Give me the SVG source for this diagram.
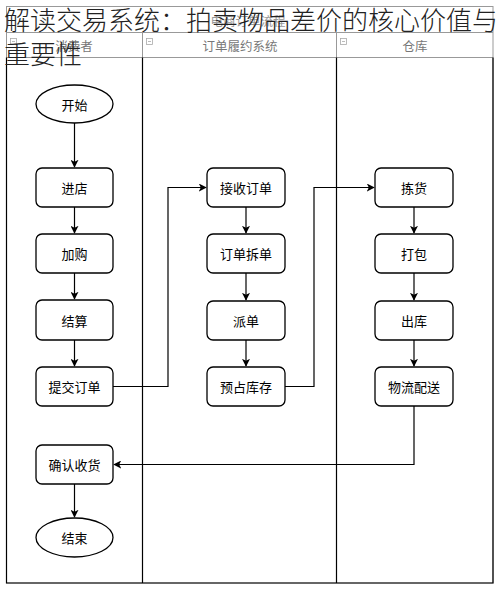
<svg xmlns="http://www.w3.org/2000/svg" width="500" height="591" viewBox="0 0 500 591">
<defs>
<marker id="arr" viewBox="0 0 10 10" refX="9" refY="5" markerWidth="8" markerHeight="8" markerUnits="userSpaceOnUse" orient="auto">
<path d="M0,0 L10,5 L0,10 L2.5,5 Z" fill="#000"/>
</marker>
</defs>
<style>
text{font-family:"Noto Sans CJK SC","Noto Sans",sans-serif;}
.n{fill:#fff;stroke:#000;stroke-width:1.3;}
.t{font-size:13px;fill:#000;text-anchor:middle;dominant-baseline:central;}
.h{font-size:12.5px;fill:#777;text-anchor:middle;dominant-baseline:central;}
.c{fill:none;stroke:#000;stroke-width:1.2;marker-end:url(#arr);}
.g{fill:none;stroke:#999;stroke-width:1;}
.lane{fill:none;stroke:#000;stroke-width:1.2;}
.ic{fill:none;stroke:#aaa;stroke-width:0.8;}
</style>
<rect width="500" height="591" fill="#fff"/>
<g id="pool">
<rect x="6.5" y="6.5" width="486.5" height="576.5" class="g"/>
<text x="248" y="20" class="h" style="fill:#999">电商订单流程</text>
<line x1="6.5" y1="32.5" x2="493" y2="32.5" class="g"/>
<line x1="6.5" y1="57.5" x2="493" y2="57.5" class="g"/>
<line x1="142.5" y1="32.5" x2="142.5" y2="57.5" class="g"/>
<line x1="336.5" y1="32.5" x2="336.5" y2="57.5" class="g"/>
<path d="M6.5,57.5 V583 H493 V57.5 M142.5,57.5 V583 M336.5,57.5 V583" class="lane"/>
<rect x="10.5" y="38.5" width="6" height="6" class="ic"/><line x1="12" y1="41.5" x2="15" y2="41.5" class="ic"/>
<rect x="146.5" y="38.5" width="6" height="6" class="ic"/><line x1="148" y1="41.5" x2="151" y2="41.5" class="ic"/>
<rect x="340.5" y="38.5" width="6" height="6" class="ic"/><line x1="342" y1="41.5" x2="345" y2="41.5" class="ic"/>
<text x="74" y="45" class="h">消费者</text>
<text x="240" y="45" class="h">订单履约系统</text>
<text x="415" y="45" class="h">仓库</text>
</g>
<g id="connectors">
<path d="M74.5,123 V167" class="c"/>
<path d="M74.5,207 V233" class="c"/>
<path d="M74.5,273 V299" class="c"/>
<path d="M74.5,340 V366" class="c"/>
<path d="M113,386.5 H168 V187.5 H206" class="c"/>
<path d="M246,207 V233" class="c"/>
<path d="M246,273 V300" class="c"/>
<path d="M246,340 V366" class="c"/>
<path d="M285,386.5 H314 V187.5 H374" class="c"/>
<path d="M414,207 V233" class="c"/>
<path d="M414,273 V300" class="c"/>
<path d="M414,340 V366" class="c"/>
<path d="M414,406 V464.5 H114" class="c"/>
<path d="M74.5,484 V517" class="c"/>
</g>
<g id="start"><ellipse cx="74.5" cy="104" rx="38.5" ry="19" class="n"/><text x="74.5" y="104" class="t">开始</text></g>
<g id="enter"><rect x="36" y="168" width="77" height="39" rx="6" class="n"/><text x="74.5" y="187.5" class="t">进店</text></g>
<g id="addcart"><rect x="36" y="234" width="77" height="39" rx="6" class="n"/><text x="74.5" y="253.5" class="t">加购</text></g>
<g id="checkout"><rect x="36" y="300" width="77" height="40" rx="6" class="n"/><text x="74.5" y="320" class="t">结算</text></g>
<g id="submit"><rect x="36" y="367" width="77" height="39" rx="6" class="n"/><text x="74.5" y="386.5" class="t">提交订单</text></g>
<g id="confirm"><rect x="36" y="445" width="77" height="39" rx="6" class="n"/><text x="74.5" y="464.5" class="t">确认收货</text></g>
<g id="end"><ellipse cx="74.5" cy="537.5" rx="38.5" ry="19.5" class="n"/><text x="74.5" y="537.5" class="t">结束</text></g>
<g id="receive"><rect x="207" y="168" width="78" height="39" rx="6" class="n"/><text x="246" y="187.5" class="t">接收订单</text></g>
<g id="split"><rect x="207" y="234" width="78" height="39" rx="6" class="n"/><text x="246" y="253.5" class="t">订单拆单</text></g>
<g id="dispatch"><rect x="207" y="301" width="78" height="39" rx="6" class="n"/><text x="246" y="320.5" class="t">派单</text></g>
<g id="reserve"><rect x="207" y="367" width="78" height="39" rx="6" class="n"/><text x="246" y="386.5" class="t">预占库存</text></g>
<g id="pick"><rect x="375" y="168" width="78" height="39" rx="6" class="n"/><text x="414" y="187.5" class="t">拣货</text></g>
<g id="pack"><rect x="375" y="234" width="78" height="39" rx="6" class="n"/><text x="414" y="253.5" class="t">打包</text></g>
<g id="outbound"><rect x="375" y="301" width="78" height="39" rx="6" class="n"/><text x="414" y="320.5" class="t">出库</text></g>
<g id="delivery"><rect x="375" y="367" width="78" height="39" rx="6" class="n"/><text x="414" y="386.5" class="t">物流配送</text></g>
<g id="title">
<text x="4" y="29.5" font-size="26" fill="#222" font-weight="300">解读交易系统：拍卖物品差价的核心价值与</text>
<text x="4" y="64" font-size="26" fill="#222" font-weight="300">重要性</text>
</g>
</svg>
